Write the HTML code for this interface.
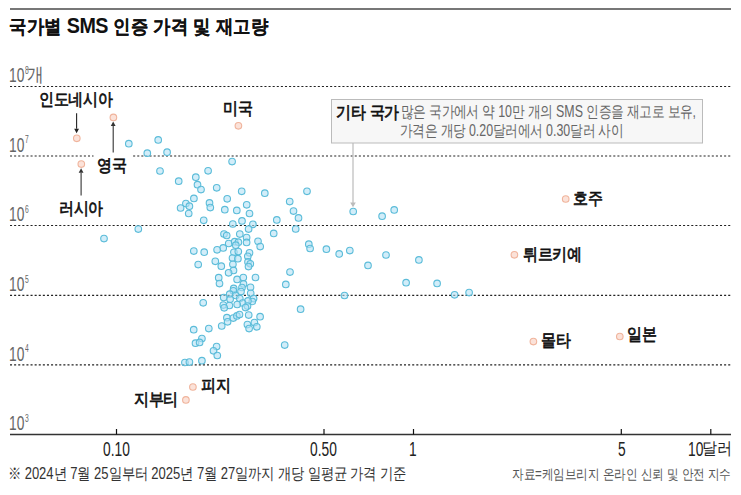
<!DOCTYPE html>
<html><head><meta charset="utf-8"><style>
html,body{margin:0;padding:0;background:#fff;}
body{width:741px;height:495px;position:relative;overflow:hidden;font-family:"Liberation Sans",sans-serif;}
.t{position:absolute;white-space:nowrap;line-height:1;transform-origin:0 0;}
sup{font-size:0.55em;vertical-align:0;position:relative;top:-0.62em;}
</style></head><body>
<svg width="741" height="495" style="position:absolute;left:0;top:0">
<line x1="10" y1="9" x2="731" y2="9" stroke="#777" stroke-width="2"/>
<line x1="10" y1="86.5" x2="731" y2="86.5" stroke="#222" stroke-width="1.1" stroke-dasharray="2.052 2.052"/>
<line x1="10" y1="156.0" x2="731" y2="156.0" stroke="#222" stroke-width="1.1" stroke-dasharray="2.052 2.052"/>
<line x1="10" y1="225.5" x2="731" y2="225.5" stroke="#222" stroke-width="1.1" stroke-dasharray="2.052 2.052"/>
<line x1="10" y1="295.4" x2="731" y2="295.4" stroke="#222" stroke-width="1.1" stroke-dasharray="2.052 2.052"/>
<line x1="10" y1="364.9" x2="731" y2="364.9" stroke="#222" stroke-width="1.1" stroke-dasharray="2.052 2.052"/>
<rect x="93.5" y="153" width="39.5" height="6" fill="#fff"/>
<line x1="10" y1="434.5" x2="731" y2="434.5" stroke="#333" stroke-width="1.3"/>
<line x1="116.5" y1="429" x2="116.5" y2="434.5" stroke="#111" stroke-width="1.2"/>
<line x1="324.0" y1="429" x2="324.0" y2="434.5" stroke="#111" stroke-width="1.2"/>
<line x1="413.5" y1="429" x2="413.5" y2="434.5" stroke="#111" stroke-width="1.2"/>
<line x1="621.3" y1="429" x2="621.3" y2="434.5" stroke="#111" stroke-width="1.2"/>
<line x1="710.8" y1="429" x2="710.8" y2="434.5" stroke="#111" stroke-width="1.2"/>
<rect x="331.5" y="99.5" width="371" height="43.5" fill="#f7f7f7" stroke="#bbb" stroke-width="1"/>
<line x1="353" y1="143" x2="353" y2="203" stroke="#bbb" stroke-width="1.2"/>
<path d="M350.2,202.5 L355.8,202.5 L353,207.3 Z" fill="#bbb"/>
<line x1="76.6" y1="113.3" x2="76.6" y2="128.70000000000002" stroke="#222" stroke-width="1.1"/>
<path d="M74.19999999999999,128.70000000000002 L79.0,128.70000000000002 L76.6,133.3 Z" fill="#222"/>
<line x1="113.2" y1="152.6" x2="113.2" y2="126.1" stroke="#333" stroke-width="1.1"/>
<path d="M110.8,126.1 L115.60000000000001,126.1 L113.2,121.5 Z" fill="#333"/>
<line x1="81.1" y1="195.6" x2="81.1" y2="172.79999999999998" stroke="#333" stroke-width="1.1"/>
<path d="M78.69999999999999,172.79999999999998 L83.5,172.79999999999998 L81.1,168.2 Z" fill="#333"/>
<circle cx="128.8" cy="143.7" r="3.3" fill="rgba(180,225,245,0.6)" stroke="#5bbcd9" stroke-width="1.1"/>
<circle cx="158.2" cy="139.9" r="3.3" fill="rgba(180,225,245,0.6)" stroke="#5bbcd9" stroke-width="1.1"/>
<circle cx="147.3" cy="153.2" r="3.3" fill="rgba(180,225,245,0.6)" stroke="#5bbcd9" stroke-width="1.1"/>
<circle cx="167.1" cy="152.2" r="3.3" fill="rgba(180,225,245,0.6)" stroke="#5bbcd9" stroke-width="1.1"/>
<circle cx="160.0" cy="171.0" r="3.3" fill="rgba(180,225,245,0.6)" stroke="#5bbcd9" stroke-width="1.1"/>
<circle cx="178.7" cy="181.2" r="3.3" fill="rgba(180,225,245,0.6)" stroke="#5bbcd9" stroke-width="1.1"/>
<circle cx="232.1" cy="161.6" r="3.3" fill="rgba(180,225,245,0.6)" stroke="#5bbcd9" stroke-width="1.1"/>
<circle cx="208.1" cy="170.8" r="3.3" fill="rgba(180,225,245,0.6)" stroke="#5bbcd9" stroke-width="1.1"/>
<circle cx="195.8" cy="177.2" r="3.3" fill="rgba(180,225,245,0.6)" stroke="#5bbcd9" stroke-width="1.1"/>
<circle cx="197.5" cy="184.7" r="3.3" fill="rgba(180,225,245,0.6)" stroke="#5bbcd9" stroke-width="1.1"/>
<circle cx="201.0" cy="189.6" r="3.3" fill="rgba(180,225,245,0.6)" stroke="#5bbcd9" stroke-width="1.1"/>
<circle cx="216.7" cy="187.8" r="3.3" fill="rgba(180,225,245,0.6)" stroke="#5bbcd9" stroke-width="1.1"/>
<circle cx="241.7" cy="191.3" r="3.3" fill="rgba(180,225,245,0.6)" stroke="#5bbcd9" stroke-width="1.1"/>
<circle cx="264.8" cy="193.2" r="3.3" fill="rgba(180,225,245,0.6)" stroke="#5bbcd9" stroke-width="1.1"/>
<circle cx="193.9" cy="198.4" r="3.3" fill="rgba(180,225,245,0.6)" stroke="#5bbcd9" stroke-width="1.1"/>
<circle cx="227.2" cy="198.8" r="3.3" fill="rgba(180,225,245,0.6)" stroke="#5bbcd9" stroke-width="1.1"/>
<circle cx="185.9" cy="203.6" r="3.3" fill="rgba(180,225,245,0.6)" stroke="#5bbcd9" stroke-width="1.1"/>
<circle cx="189.4" cy="206.2" r="3.3" fill="rgba(180,225,245,0.6)" stroke="#5bbcd9" stroke-width="1.1"/>
<circle cx="180.6" cy="208.0" r="3.3" fill="rgba(180,225,245,0.6)" stroke="#5bbcd9" stroke-width="1.1"/>
<circle cx="209.5" cy="202.9" r="3.3" fill="rgba(180,225,245,0.6)" stroke="#5bbcd9" stroke-width="1.1"/>
<circle cx="210.3" cy="207.6" r="3.3" fill="rgba(180,225,245,0.6)" stroke="#5bbcd9" stroke-width="1.1"/>
<circle cx="246.7" cy="204.8" r="3.3" fill="rgba(180,225,245,0.6)" stroke="#5bbcd9" stroke-width="1.1"/>
<circle cx="224.8" cy="209.7" r="3.3" fill="rgba(180,225,245,0.6)" stroke="#5bbcd9" stroke-width="1.1"/>
<circle cx="236.8" cy="210.4" r="3.3" fill="rgba(180,225,245,0.6)" stroke="#5bbcd9" stroke-width="1.1"/>
<circle cx="188.7" cy="213.5" r="3.3" fill="rgba(180,225,245,0.6)" stroke="#5bbcd9" stroke-width="1.1"/>
<circle cx="249.5" cy="213.5" r="3.3" fill="rgba(180,225,245,0.6)" stroke="#5bbcd9" stroke-width="1.1"/>
<circle cx="203.7" cy="220.3" r="3.3" fill="rgba(180,225,245,0.6)" stroke="#5bbcd9" stroke-width="1.1"/>
<circle cx="242.0" cy="220.9" r="3.3" fill="rgba(180,225,245,0.6)" stroke="#5bbcd9" stroke-width="1.1"/>
<circle cx="307.0" cy="191.3" r="3.3" fill="rgba(180,225,245,0.6)" stroke="#5bbcd9" stroke-width="1.1"/>
<circle cx="289.7" cy="201.6" r="3.3" fill="rgba(180,225,245,0.6)" stroke="#5bbcd9" stroke-width="1.1"/>
<circle cx="293.5" cy="211.1" r="3.3" fill="rgba(180,225,245,0.6)" stroke="#5bbcd9" stroke-width="1.1"/>
<circle cx="298.5" cy="217.9" r="3.3" fill="rgba(180,225,245,0.6)" stroke="#5bbcd9" stroke-width="1.1"/>
<circle cx="276.8" cy="219.9" r="3.3" fill="rgba(180,225,245,0.6)" stroke="#5bbcd9" stroke-width="1.1"/>
<circle cx="353.2" cy="211.5" r="3.3" fill="rgba(180,225,245,0.6)" stroke="#5bbcd9" stroke-width="1.1"/>
<circle cx="382.1" cy="216.2" r="3.3" fill="rgba(180,225,245,0.6)" stroke="#5bbcd9" stroke-width="1.1"/>
<circle cx="394.2" cy="209.9" r="3.3" fill="rgba(180,225,245,0.6)" stroke="#5bbcd9" stroke-width="1.1"/>
<circle cx="349.8" cy="250.6" r="3.3" fill="rgba(180,225,245,0.6)" stroke="#5bbcd9" stroke-width="1.1"/>
<circle cx="386.0" cy="255.0" r="3.3" fill="rgba(180,225,245,0.6)" stroke="#5bbcd9" stroke-width="1.1"/>
<circle cx="368.0" cy="265.4" r="3.3" fill="rgba(180,225,245,0.6)" stroke="#5bbcd9" stroke-width="1.1"/>
<circle cx="418.9" cy="259.9" r="3.3" fill="rgba(180,225,245,0.6)" stroke="#5bbcd9" stroke-width="1.1"/>
<circle cx="406.1" cy="282.7" r="3.3" fill="rgba(180,225,245,0.6)" stroke="#5bbcd9" stroke-width="1.1"/>
<circle cx="437.1" cy="283.4" r="3.3" fill="rgba(180,225,245,0.6)" stroke="#5bbcd9" stroke-width="1.1"/>
<circle cx="454.6" cy="294.8" r="3.3" fill="rgba(180,225,245,0.6)" stroke="#5bbcd9" stroke-width="1.1"/>
<circle cx="469.1" cy="292.6" r="3.3" fill="rgba(180,225,245,0.6)" stroke="#5bbcd9" stroke-width="1.1"/>
<circle cx="295.7" cy="229.0" r="3.3" fill="rgba(180,225,245,0.6)" stroke="#5bbcd9" stroke-width="1.1"/>
<circle cx="273.7" cy="233.4" r="3.3" fill="rgba(180,225,245,0.6)" stroke="#5bbcd9" stroke-width="1.1"/>
<circle cx="308.8" cy="244.2" r="3.3" fill="rgba(180,225,245,0.6)" stroke="#5bbcd9" stroke-width="1.1"/>
<circle cx="310.1" cy="248.5" r="3.3" fill="rgba(180,225,245,0.6)" stroke="#5bbcd9" stroke-width="1.1"/>
<circle cx="326.4" cy="249.2" r="3.3" fill="rgba(180,225,245,0.6)" stroke="#5bbcd9" stroke-width="1.1"/>
<circle cx="339.2" cy="253.9" r="3.3" fill="rgba(180,225,245,0.6)" stroke="#5bbcd9" stroke-width="1.1"/>
<circle cx="290.0" cy="272.1" r="3.3" fill="rgba(180,225,245,0.6)" stroke="#5bbcd9" stroke-width="1.1"/>
<circle cx="285.8" cy="284.4" r="3.3" fill="rgba(180,225,245,0.6)" stroke="#5bbcd9" stroke-width="1.1"/>
<circle cx="344.5" cy="295.5" r="3.3" fill="rgba(180,225,245,0.6)" stroke="#5bbcd9" stroke-width="1.1"/>
<circle cx="300.6" cy="309.2" r="3.3" fill="rgba(180,225,245,0.6)" stroke="#5bbcd9" stroke-width="1.1"/>
<circle cx="232.8" cy="224.0" r="3.3" fill="rgba(180,225,245,0.6)" stroke="#5bbcd9" stroke-width="1.1"/>
<circle cx="252.9" cy="224.3" r="3.3" fill="rgba(180,225,245,0.6)" stroke="#5bbcd9" stroke-width="1.1"/>
<circle cx="248.6" cy="229.1" r="3.3" fill="rgba(180,225,245,0.6)" stroke="#5bbcd9" stroke-width="1.1"/>
<circle cx="224.0" cy="234.0" r="3.3" fill="rgba(180,225,245,0.6)" stroke="#5bbcd9" stroke-width="1.1"/>
<circle cx="226.7" cy="235.5" r="3.3" fill="rgba(180,225,245,0.6)" stroke="#5bbcd9" stroke-width="1.1"/>
<circle cx="239.8" cy="234.1" r="3.3" fill="rgba(180,225,245,0.6)" stroke="#5bbcd9" stroke-width="1.1"/>
<circle cx="246.6" cy="237.5" r="3.3" fill="rgba(180,225,245,0.6)" stroke="#5bbcd9" stroke-width="1.1"/>
<circle cx="246.6" cy="242.4" r="3.3" fill="rgba(180,225,245,0.6)" stroke="#5bbcd9" stroke-width="1.1"/>
<circle cx="258.0" cy="241.3" r="3.3" fill="rgba(180,225,245,0.6)" stroke="#5bbcd9" stroke-width="1.1"/>
<circle cx="260.2" cy="246.6" r="3.3" fill="rgba(180,225,245,0.6)" stroke="#5bbcd9" stroke-width="1.1"/>
<circle cx="228.7" cy="243.5" r="3.3" fill="rgba(180,225,245,0.6)" stroke="#5bbcd9" stroke-width="1.1"/>
<circle cx="234.7" cy="241.7" r="3.3" fill="rgba(180,225,245,0.6)" stroke="#5bbcd9" stroke-width="1.1"/>
<circle cx="238.4" cy="242.2" r="3.3" fill="rgba(180,225,245,0.6)" stroke="#5bbcd9" stroke-width="1.1"/>
<circle cx="235.8" cy="245.2" r="3.3" fill="rgba(180,225,245,0.6)" stroke="#5bbcd9" stroke-width="1.1"/>
<circle cx="223.2" cy="247.9" r="3.3" fill="rgba(180,225,245,0.6)" stroke="#5bbcd9" stroke-width="1.1"/>
<circle cx="217.1" cy="249.8" r="3.3" fill="rgba(180,225,245,0.6)" stroke="#5bbcd9" stroke-width="1.1"/>
<circle cx="193.8" cy="251.1" r="3.3" fill="rgba(180,225,245,0.6)" stroke="#5bbcd9" stroke-width="1.1"/>
<circle cx="204.2" cy="252.2" r="3.3" fill="rgba(180,225,245,0.6)" stroke="#5bbcd9" stroke-width="1.1"/>
<circle cx="233.9" cy="252.3" r="3.3" fill="rgba(180,225,245,0.6)" stroke="#5bbcd9" stroke-width="1.1"/>
<circle cx="238.3" cy="251.6" r="3.3" fill="rgba(180,225,245,0.6)" stroke="#5bbcd9" stroke-width="1.1"/>
<circle cx="249.5" cy="252.8" r="3.3" fill="rgba(180,225,245,0.6)" stroke="#5bbcd9" stroke-width="1.1"/>
<circle cx="247.8" cy="256.3" r="3.3" fill="rgba(180,225,245,0.6)" stroke="#5bbcd9" stroke-width="1.1"/>
<circle cx="232.5" cy="258.1" r="3.3" fill="rgba(180,225,245,0.6)" stroke="#5bbcd9" stroke-width="1.1"/>
<circle cx="237.9" cy="258.7" r="3.3" fill="rgba(180,225,245,0.6)" stroke="#5bbcd9" stroke-width="1.1"/>
<circle cx="215.3" cy="261.3" r="3.3" fill="rgba(180,225,245,0.6)" stroke="#5bbcd9" stroke-width="1.1"/>
<circle cx="221.3" cy="266.2" r="3.3" fill="rgba(180,225,245,0.6)" stroke="#5bbcd9" stroke-width="1.1"/>
<circle cx="232.9" cy="264.3" r="3.3" fill="rgba(180,225,245,0.6)" stroke="#5bbcd9" stroke-width="1.1"/>
<circle cx="233.5" cy="270.4" r="3.3" fill="rgba(180,225,245,0.6)" stroke="#5bbcd9" stroke-width="1.1"/>
<circle cx="228.6" cy="272.8" r="3.3" fill="rgba(180,225,245,0.6)" stroke="#5bbcd9" stroke-width="1.1"/>
<circle cx="248.0" cy="261.9" r="3.3" fill="rgba(180,225,245,0.6)" stroke="#5bbcd9" stroke-width="1.1"/>
<circle cx="250.3" cy="263.8" r="3.3" fill="rgba(180,225,245,0.6)" stroke="#5bbcd9" stroke-width="1.1"/>
<circle cx="248.5" cy="266.6" r="3.3" fill="rgba(180,225,245,0.6)" stroke="#5bbcd9" stroke-width="1.1"/>
<circle cx="218.7" cy="277.7" r="3.3" fill="rgba(180,225,245,0.6)" stroke="#5bbcd9" stroke-width="1.1"/>
<circle cx="219.5" cy="283.6" r="3.3" fill="rgba(180,225,245,0.6)" stroke="#5bbcd9" stroke-width="1.1"/>
<circle cx="237.1" cy="279.4" r="3.3" fill="rgba(180,225,245,0.6)" stroke="#5bbcd9" stroke-width="1.1"/>
<circle cx="243.3" cy="277.5" r="3.3" fill="rgba(180,225,245,0.6)" stroke="#5bbcd9" stroke-width="1.1"/>
<circle cx="255.5" cy="277.5" r="3.3" fill="rgba(180,225,245,0.6)" stroke="#5bbcd9" stroke-width="1.1"/>
<circle cx="243.5" cy="283.9" r="3.3" fill="rgba(180,225,245,0.6)" stroke="#5bbcd9" stroke-width="1.1"/>
<circle cx="233.7" cy="288.4" r="3.3" fill="rgba(180,225,245,0.6)" stroke="#5bbcd9" stroke-width="1.1"/>
<circle cx="242.0" cy="287.5" r="3.3" fill="rgba(180,225,245,0.6)" stroke="#5bbcd9" stroke-width="1.1"/>
<circle cx="250.5" cy="287.3" r="3.3" fill="rgba(180,225,245,0.6)" stroke="#5bbcd9" stroke-width="1.1"/>
<circle cx="233.3" cy="290.8" r="3.3" fill="rgba(180,225,245,0.6)" stroke="#5bbcd9" stroke-width="1.1"/>
<circle cx="241.0" cy="291.6" r="3.3" fill="rgba(180,225,245,0.6)" stroke="#5bbcd9" stroke-width="1.1"/>
<circle cx="250.7" cy="293.3" r="3.3" fill="rgba(180,225,245,0.6)" stroke="#5bbcd9" stroke-width="1.1"/>
<circle cx="229.7" cy="294.2" r="3.3" fill="rgba(180,225,245,0.6)" stroke="#5bbcd9" stroke-width="1.1"/>
<circle cx="235.7" cy="295.5" r="3.3" fill="rgba(180,225,245,0.6)" stroke="#5bbcd9" stroke-width="1.1"/>
<circle cx="223.7" cy="297.5" r="3.3" fill="rgba(180,225,245,0.6)" stroke="#5bbcd9" stroke-width="1.1"/>
<circle cx="230.1" cy="299.3" r="3.3" fill="rgba(180,225,245,0.6)" stroke="#5bbcd9" stroke-width="1.1"/>
<circle cx="239.8" cy="298.5" r="3.3" fill="rgba(180,225,245,0.6)" stroke="#5bbcd9" stroke-width="1.1"/>
<circle cx="253.6" cy="298.6" r="3.3" fill="rgba(180,225,245,0.6)" stroke="#5bbcd9" stroke-width="1.1"/>
<circle cx="252.3" cy="301.5" r="3.3" fill="rgba(180,225,245,0.6)" stroke="#5bbcd9" stroke-width="1.1"/>
<circle cx="247.9" cy="300.9" r="3.3" fill="rgba(180,225,245,0.6)" stroke="#5bbcd9" stroke-width="1.1"/>
<circle cx="242.6" cy="303.0" r="3.3" fill="rgba(180,225,245,0.6)" stroke="#5bbcd9" stroke-width="1.1"/>
<circle cx="237.2" cy="304.5" r="3.3" fill="rgba(180,225,245,0.6)" stroke="#5bbcd9" stroke-width="1.1"/>
<circle cx="223.3" cy="305.1" r="3.3" fill="rgba(180,225,245,0.6)" stroke="#5bbcd9" stroke-width="1.1"/>
<circle cx="229.4" cy="305.5" r="3.3" fill="rgba(180,225,245,0.6)" stroke="#5bbcd9" stroke-width="1.1"/>
<circle cx="247.5" cy="306.1" r="3.3" fill="rgba(180,225,245,0.6)" stroke="#5bbcd9" stroke-width="1.1"/>
<circle cx="245.5" cy="307.6" r="3.3" fill="rgba(180,225,245,0.6)" stroke="#5bbcd9" stroke-width="1.1"/>
<circle cx="224.2" cy="307.8" r="3.3" fill="rgba(180,225,245,0.6)" stroke="#5bbcd9" stroke-width="1.1"/>
<circle cx="203.2" cy="302.8" r="3.3" fill="rgba(180,225,245,0.6)" stroke="#5bbcd9" stroke-width="1.1"/>
<circle cx="226.9" cy="317.7" r="3.3" fill="rgba(180,225,245,0.6)" stroke="#5bbcd9" stroke-width="1.1"/>
<circle cx="233.3" cy="318.1" r="3.3" fill="rgba(180,225,245,0.6)" stroke="#5bbcd9" stroke-width="1.1"/>
<circle cx="236.9" cy="315.9" r="3.3" fill="rgba(180,225,245,0.6)" stroke="#5bbcd9" stroke-width="1.1"/>
<circle cx="239.5" cy="314.5" r="3.3" fill="rgba(180,225,245,0.6)" stroke="#5bbcd9" stroke-width="1.1"/>
<circle cx="248.7" cy="315.1" r="3.3" fill="rgba(180,225,245,0.6)" stroke="#5bbcd9" stroke-width="1.1"/>
<circle cx="260.1" cy="316.7" r="3.3" fill="rgba(180,225,245,0.6)" stroke="#5bbcd9" stroke-width="1.1"/>
<circle cx="227.6" cy="321.8" r="3.3" fill="rgba(180,225,245,0.6)" stroke="#5bbcd9" stroke-width="1.1"/>
<circle cx="221.7" cy="326.0" r="3.3" fill="rgba(180,225,245,0.6)" stroke="#5bbcd9" stroke-width="1.1"/>
<circle cx="208.8" cy="328.6" r="3.3" fill="rgba(180,225,245,0.6)" stroke="#5bbcd9" stroke-width="1.1"/>
<circle cx="193.7" cy="329.7" r="3.3" fill="rgba(180,225,245,0.6)" stroke="#5bbcd9" stroke-width="1.1"/>
<circle cx="247.4" cy="324.6" r="3.3" fill="rgba(180,225,245,0.6)" stroke="#5bbcd9" stroke-width="1.1"/>
<circle cx="254.4" cy="322.6" r="3.3" fill="rgba(180,225,245,0.6)" stroke="#5bbcd9" stroke-width="1.1"/>
<circle cx="249.1" cy="328.6" r="3.3" fill="rgba(180,225,245,0.6)" stroke="#5bbcd9" stroke-width="1.1"/>
<circle cx="256.8" cy="326.8" r="3.3" fill="rgba(180,225,245,0.6)" stroke="#5bbcd9" stroke-width="1.1"/>
<circle cx="201.9" cy="338.5" r="3.3" fill="rgba(180,225,245,0.6)" stroke="#5bbcd9" stroke-width="1.1"/>
<circle cx="195.5" cy="343.2" r="3.3" fill="rgba(180,225,245,0.6)" stroke="#5bbcd9" stroke-width="1.1"/>
<circle cx="199.6" cy="342.4" r="3.3" fill="rgba(180,225,245,0.6)" stroke="#5bbcd9" stroke-width="1.1"/>
<circle cx="216.6" cy="346.6" r="3.3" fill="rgba(180,225,245,0.6)" stroke="#5bbcd9" stroke-width="1.1"/>
<circle cx="213.5" cy="350.8" r="3.3" fill="rgba(180,225,245,0.6)" stroke="#5bbcd9" stroke-width="1.1"/>
<circle cx="217.3" cy="355.5" r="3.3" fill="rgba(180,225,245,0.6)" stroke="#5bbcd9" stroke-width="1.1"/>
<circle cx="201.9" cy="360.7" r="3.3" fill="rgba(180,225,245,0.6)" stroke="#5bbcd9" stroke-width="1.1"/>
<circle cx="184.9" cy="362.5" r="3.3" fill="rgba(180,225,245,0.6)" stroke="#5bbcd9" stroke-width="1.1"/>
<circle cx="189.4" cy="362.1" r="3.3" fill="rgba(180,225,245,0.6)" stroke="#5bbcd9" stroke-width="1.1"/>
<circle cx="284.7" cy="345.1" r="3.3" fill="rgba(180,225,245,0.6)" stroke="#5bbcd9" stroke-width="1.1"/>
<circle cx="104.0" cy="238.6" r="3.3" fill="rgba(180,225,245,0.6)" stroke="#5bbcd9" stroke-width="1.1"/>
<circle cx="138.3" cy="229.1" r="3.3" fill="rgba(180,225,245,0.6)" stroke="#5bbcd9" stroke-width="1.1"/>
<circle cx="198.2" cy="264.6" r="3.3" fill="rgba(180,225,245,0.6)" stroke="#5bbcd9" stroke-width="1.1"/>
<circle cx="76.8" cy="138.3" r="3.3" fill="#fbe2d9" stroke="#f0b49c" stroke-width="1.1"/>
<circle cx="113.4" cy="117.4" r="3.3" fill="#fbe2d9" stroke="#f0b49c" stroke-width="1.1"/>
<circle cx="81.3" cy="164.1" r="3.3" fill="#fbe2d9" stroke="#f0b49c" stroke-width="1.1"/>
<circle cx="238.4" cy="125.8" r="3.3" fill="#fbe2d9" stroke="#f0b49c" stroke-width="1.1"/>
<circle cx="565.7" cy="199.0" r="3.3" fill="#fbe2d9" stroke="#f0b49c" stroke-width="1.1"/>
<circle cx="514.4" cy="254.8" r="3.3" fill="#fbe2d9" stroke="#f0b49c" stroke-width="1.1"/>
<circle cx="533.4" cy="341.6" r="3.3" fill="#fbe2d9" stroke="#f0b49c" stroke-width="1.1"/>
<circle cx="619.8" cy="336.5" r="3.3" fill="#fbe2d9" stroke="#f0b49c" stroke-width="1.1"/>
<circle cx="192.9" cy="387.0" r="3.3" fill="#fbe2d9" stroke="#f0b49c" stroke-width="1.1"/>
<circle cx="185.9" cy="399.9" r="3.3" fill="#fbe2d9" stroke="#f0b49c" stroke-width="1.1"/>
</svg>
<div class="t" id="y8" style="left:8.87px;top:64.86px;font-size:18px;color:#666;transform:scale(0.7645,1.1215);">10</div>
<div class="t" id="ys8" style="left:24.85px;top:65.8px;font-size:10px;color:#666;transform:scale(0.6726,1.0207);">8</div>
<div class="t" id="y7" style="left:8.87px;top:134.91px;font-size:18px;color:#666;transform:scale(0.7645,1.1215);">10</div>
<div class="t" id="ys7" style="left:24.85px;top:134.64px;font-size:10px;color:#666;transform:scale(0.6726,1.0207);">7</div>
<div class="t" id="y6" style="left:8.87px;top:203.86px;font-size:18px;color:#666;transform:scale(0.7645,1.1215);">10</div>
<div class="t" id="ys6" style="left:24.85px;top:204.8px;font-size:10px;color:#666;transform:scale(0.6726,1.0207);">6</div>
<div class="t" id="y5" style="left:8.87px;top:273.54px;font-size:18px;color:#666;transform:scale(0.7645,1.1215);">10</div>
<div class="t" id="ys5" style="left:24.85px;top:274.76px;font-size:10px;color:#666;transform:scale(0.6726,1.0207);">5</div>
<div class="t" id="y4" style="left:8.87px;top:343.5px;font-size:18px;color:#666;transform:scale(0.7645,1.1215);">10</div>
<div class="t" id="ys4" style="left:24.51px;top:343.6px;font-size:10px;color:#666;transform:scale(0.6726,1.0207);">4</div>
<div class="t" id="y3" style="left:8.87px;top:412.86px;font-size:18px;color:#666;transform:scale(0.7645,1.1215);">10</div>
<div class="t" id="ys3" style="left:24.76px;top:413.8px;font-size:10px;color:#666;transform:scale(0.6726,1.0207);">3</div>
<div class="t" id="title" style="left:8.69px;top:14.61px;font-size:21px;color:#111;font-weight:bold;transform:scale(0.839,0.9212);-webkit-text-stroke:0.15px #111;">국가별 <span style="-webkit-text-stroke:0;font-size:1.12em;letter-spacing:-0.6px;position:relative;top:1.2px">SMS</span> 인증 가격 및 재고량</div>
<div class="t" id="y8k" style="left:26.79px;top:64.99px;font-size:15px;color:#666;transform:scale(1.106,1.2528);">개</div>
<div class="t" id="x1" style="left:102.62px;top:438.95px;font-size:18px;color:#222;transform:scale(0.7654,1.1301);">0.10</div>
<div class="t" id="x2" style="left:309.63px;top:438.74px;font-size:18px;color:#222;transform:scale(0.7654,1.1301);">0.50</div>
<div class="t" id="x3" style="left:408.93px;top:438.98px;font-size:18px;color:#222;transform:scale(0.7654,1.1301);">1</div>
<div class="t" id="x4" style="left:617.99px;top:438.98px;font-size:18px;color:#222;transform:scale(0.7654,1.1301);">5</div>
<div class="t" id="x5a" style="left:687.58px;top:438.5px;font-size:18px;color:#222;transform:scale(0.7654,1.1301);">10</div>
<div class="t" id="x5b" style="left:701.68px;top:439.72px;font-size:16px;color:#222;transform:scale(0.924,1.0407);">달러</div>
<div class="t" id="foot" style="left:7.81px;top:464.79px;font-size:15px;color:#333;transform:scale(0.868,1.0402);">※ 2024년 7월 25일부터 2025년 7월 27일까지 개당 일평균 가격 기준</div>
<div class="t" id="src" style="left:511.57px;top:466.99px;font-size:13px;color:#555;transform:scale(0.8876,1.0701);">자료=케임브리지 온라인 신뢰 및 안전 지수</div>
<div class="t" id="l_indo" style="left:38.79px;top:89.8px;font-size:15px;color:#111;font-weight:normal;transform:scale(0.9815,1.1155);-webkit-text-stroke:0.65px #111;">인도네시아</div>
<div class="t" id="l_uk" style="left:96.73px;top:155.75px;font-size:15px;color:#111;font-weight:normal;transform:scale(0.9815,1.1155);-webkit-text-stroke:0.65px #111;">영국</div>
<div class="t" id="l_ru" style="left:58.85px;top:198.56px;font-size:15px;color:#111;font-weight:normal;transform:scale(0.9815,1.1155);-webkit-text-stroke:0.65px #111;">러시아</div>
<div class="t" id="l_us" style="left:222.58px;top:98.65px;font-size:15px;color:#111;font-weight:normal;transform:scale(0.9815,1.1155);-webkit-text-stroke:0.65px #111;">미국</div>
<div class="t" id="l_au" style="left:572.74px;top:188.59px;font-size:15px;color:#111;font-weight:normal;transform:scale(0.9815,1.1155);-webkit-text-stroke:0.65px #111;">호주</div>
<div class="t" id="l_tr" style="left:522.84px;top:244.98px;font-size:15px;color:#111;font-weight:normal;transform:scale(0.9815,1.1155);-webkit-text-stroke:0.65px #111;">튀르키예</div>
<div class="t" id="l_mt" style="left:540.95px;top:330.72px;font-size:15px;color:#111;font-weight:normal;transform:scale(0.9815,1.1155);-webkit-text-stroke:0.65px #111;">몰타</div>
<div class="t" id="l_jp" style="left:626.76px;top:324.83px;font-size:15px;color:#111;font-weight:normal;transform:scale(0.9815,1.1155);-webkit-text-stroke:0.65px #111;">일본</div>
<div class="t" id="l_fj" style="left:200.71px;top:375.63px;font-size:15px;color:#111;font-weight:normal;transform:scale(0.9815,1.1155);-webkit-text-stroke:0.65px #111;">피지</div>
<div class="t" id="l_dj" style="left:133.88px;top:389.81px;font-size:15px;color:#111;font-weight:normal;transform:scale(0.9815,1.1155);-webkit-text-stroke:0.65px #111;">지부티</div>
<div class="t" id="c_h" style="left:335.88px;top:102.63px;font-size:15px;color:#111;font-weight:normal;transform:scale(0.9815,1.1155);-webkit-text-stroke:0.65px #111;">기타 국가</div>
<div class="t" id="c_1" style="left:400.81px;top:103.67px;font-size:13px;color:#666;transform:scale(0.9539,1.1989);">많은 국가에서 약 10만 개의 SMS 인증을 재고로 보유,</div>
<div class="t" id="c_2" style="left:399.88px;top:122.72px;font-size:13px;color:#666;transform:scale(0.9539,1.1989);">가격은 개당 0.20달러에서 0.30달러 사이</div>
</body></html>
